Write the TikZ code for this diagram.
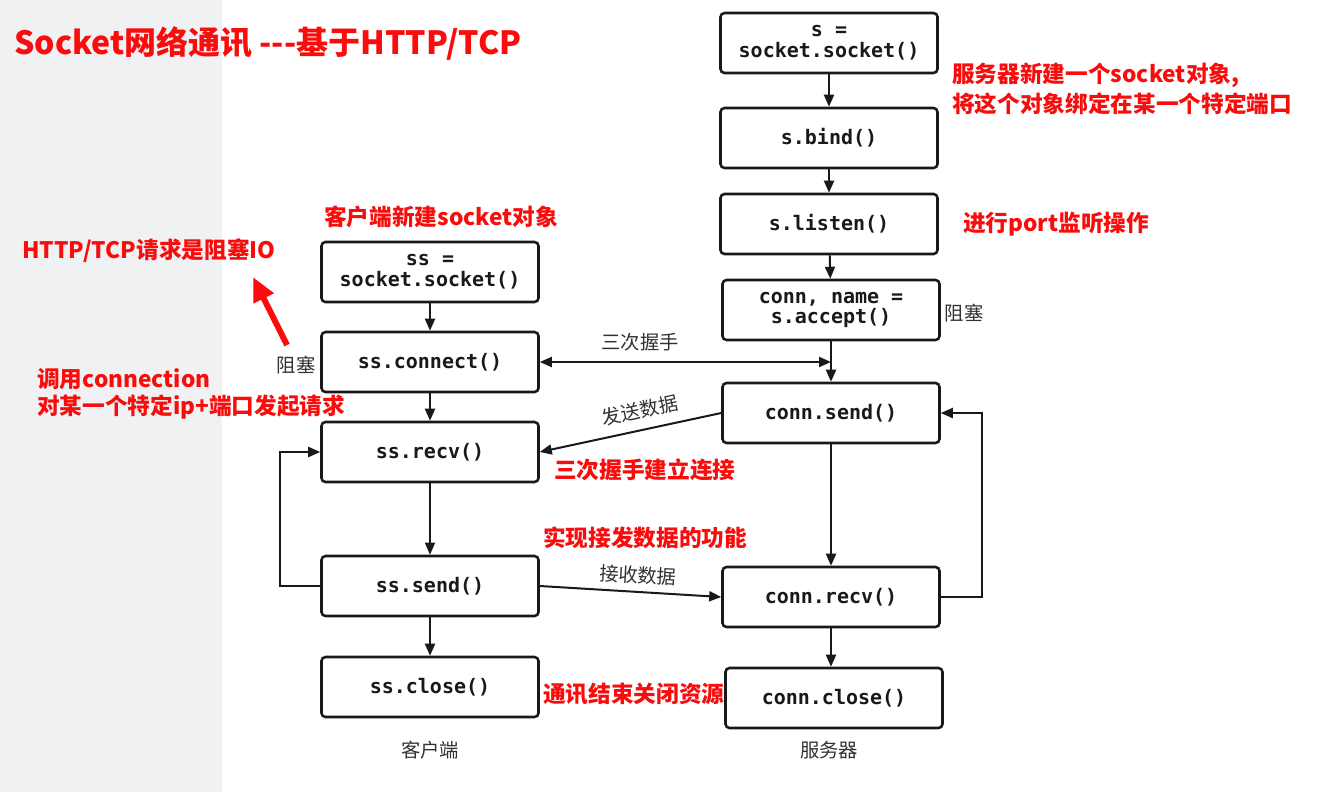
\documentclass[tikz,border=0pt]{standalone}
\usepackage{fontspec}
\setmainfont{Noto Sans CJK SC}
\setmonofont{DejaVu Sans Mono}
\usetikzlibrary{arrows.meta}
\definecolor{redtxt}{RGB}{250,12,12}
\definecolor{strip}{RGB}{240,241,243}
\definecolor{ink}{RGB}{25,25,25}
\definecolor{lbl}{RGB}{50,50,50}
\tikzset{
  fbox/.style={draw=ink, line width=1.9pt, rounded corners=3pt, minimum width=162.75pt, minimum height=45pt, inner sep=0pt, align=center, font=\ttfamily\bfseries\fontsize{15}{15.5}\selectfont, text=ink},
  arr/.style={draw=ink, line width=1.5pt, -{Triangle[length=9pt,width=7.5pt]}},
  redlbl/.style={text=redtxt, font=\bfseries\fontsize{17}{20}\selectfont, anchor=west, inner sep=0pt},
  blbl/.style={text=lbl, font=\fontsize{14.5}{16}\selectfont, inner sep=0pt},
}
\begin{document}
\begin{tikzpicture}[x=0.75pt,y=-0.75pt]
\path[use as bounding box] (0,0) rectangle (1332,792);
\fill[white] (0,0) rectangle (1332,792);
\fill[strip] (0,0) rectangle (222,792);
% client
\node[fbox] (cs) at (430,272) {ss =\\socket.socket()};
\node[fbox] (cc) at (430,362) {ss.connect()};
\node[fbox] (cr) at (430,452) {ss.recv()};
\node[fbox] (csd) at (430,586) {ss.send()};
\node[fbox] (ccl) at (430,687) {ss.close()};
% server
\node[fbox] (ss) at (829,43) {s =\\socket.socket()};
\node[fbox] (sb) at (829,138) {s.bind()};
\node[fbox] (sl) at (829,224) {s.listen()};
\node[fbox] (sa) at (831,310) {conn, name =\\s.accept()};
\node[fbox] (ssd) at (831,413) {conn.send()};
\node[fbox] (srv) at (831,597) {conn.recv()};
\node[fbox] (scl) at (834,698) {conn.close()};
% client arrows
\draw[arr] (cs) -- (cc);
\draw[arr] (cc) -- (cr);
\draw[arr, line width=1pt] (cr) -- (csd);
\draw[arr] (csd) -- (ccl);
\draw[arr] (csd.west) -- ++(-40,0) |- (cr.west);
% server arrows
\draw[arr] (ss) -- (sb);
\draw[arr] (sb) -- (sl);
\draw[arr] (sl) -- (sa);
\draw[arr] (sa) -- (ssd);
\draw[arr] (ssd) -- (srv);
\draw[arr] (srv) -- (srv |- scl.north);
\draw[arr] (srv.east) -- ++(41,0) |- (ssd.east);
% cross arrows
\coordinate (hs) at (ssd.north |- cc.east);
\draw[arr, {Triangle[length=9pt,width=7.5pt]}-{Triangle[length=9pt,width=7.5pt]}] (cc.east) -- (hs);
\draw[arr] (ssd.west) -- (cr.east);
\draw[arr] (csd.east) -- (srv.west);
\node[blbl] (l1) at (640,342) {三次握手};
\node[blbl, rotate=12] (l2) at (640,410) {发送数据};
\node[blbl, rotate=-3] (l3) at (638,575) {接收数据};
% black labels
\node[blbl] (lc) at (430,750) {客户端};
\node[blbl] (ls) at (829,750) {服务器};
\node[blbl] (b1) at (296,365) {阻塞};
\node[blbl] (b2) at (964,313) {阻塞};
% red labels
\node[redlbl, font=\bfseries\fontsize{24}{30}\selectfont] (title) at (14,44) {Socket网络通讯 -{}-{}-基于HTTP/TCP};
\node[redlbl] (r1) at (952,75) {服务器新建一个socket对象,};
\node[redlbl] (r2) at (952,104) {将这个对象绑定在某一个特定端口};
\node[redlbl] (r3) at (963,224) {进行port监听操作};
\node[redlbl] (r4) at (324,217) {客户端新建socket对象};
\node[redlbl] (r5) at (22,251) {HTTP/TCP请求是阻塞IO};
\node[redlbl] (r6) at (37,379) {调用connection};
\node[redlbl] (r7) at (37,407) {对某一个特定ip+端口发起请求};
\node[redlbl] (r8) at (554,470) {三次握手建立连接};
\node[redlbl] (r9) at (543,538) {实现接发数据的功能};
\node[redlbl] (r10) at (543,694) {通讯结束关闭资源};
% red arrow
\coordinate (ra1) at (287,345);
\coordinate (ra2) at (253,277);
\draw[redtxt, line width=4.5pt, -{Triangle[length=18pt,width=16pt]}] (ra1) -- (ra2);
\end{tikzpicture}
\end{document}
